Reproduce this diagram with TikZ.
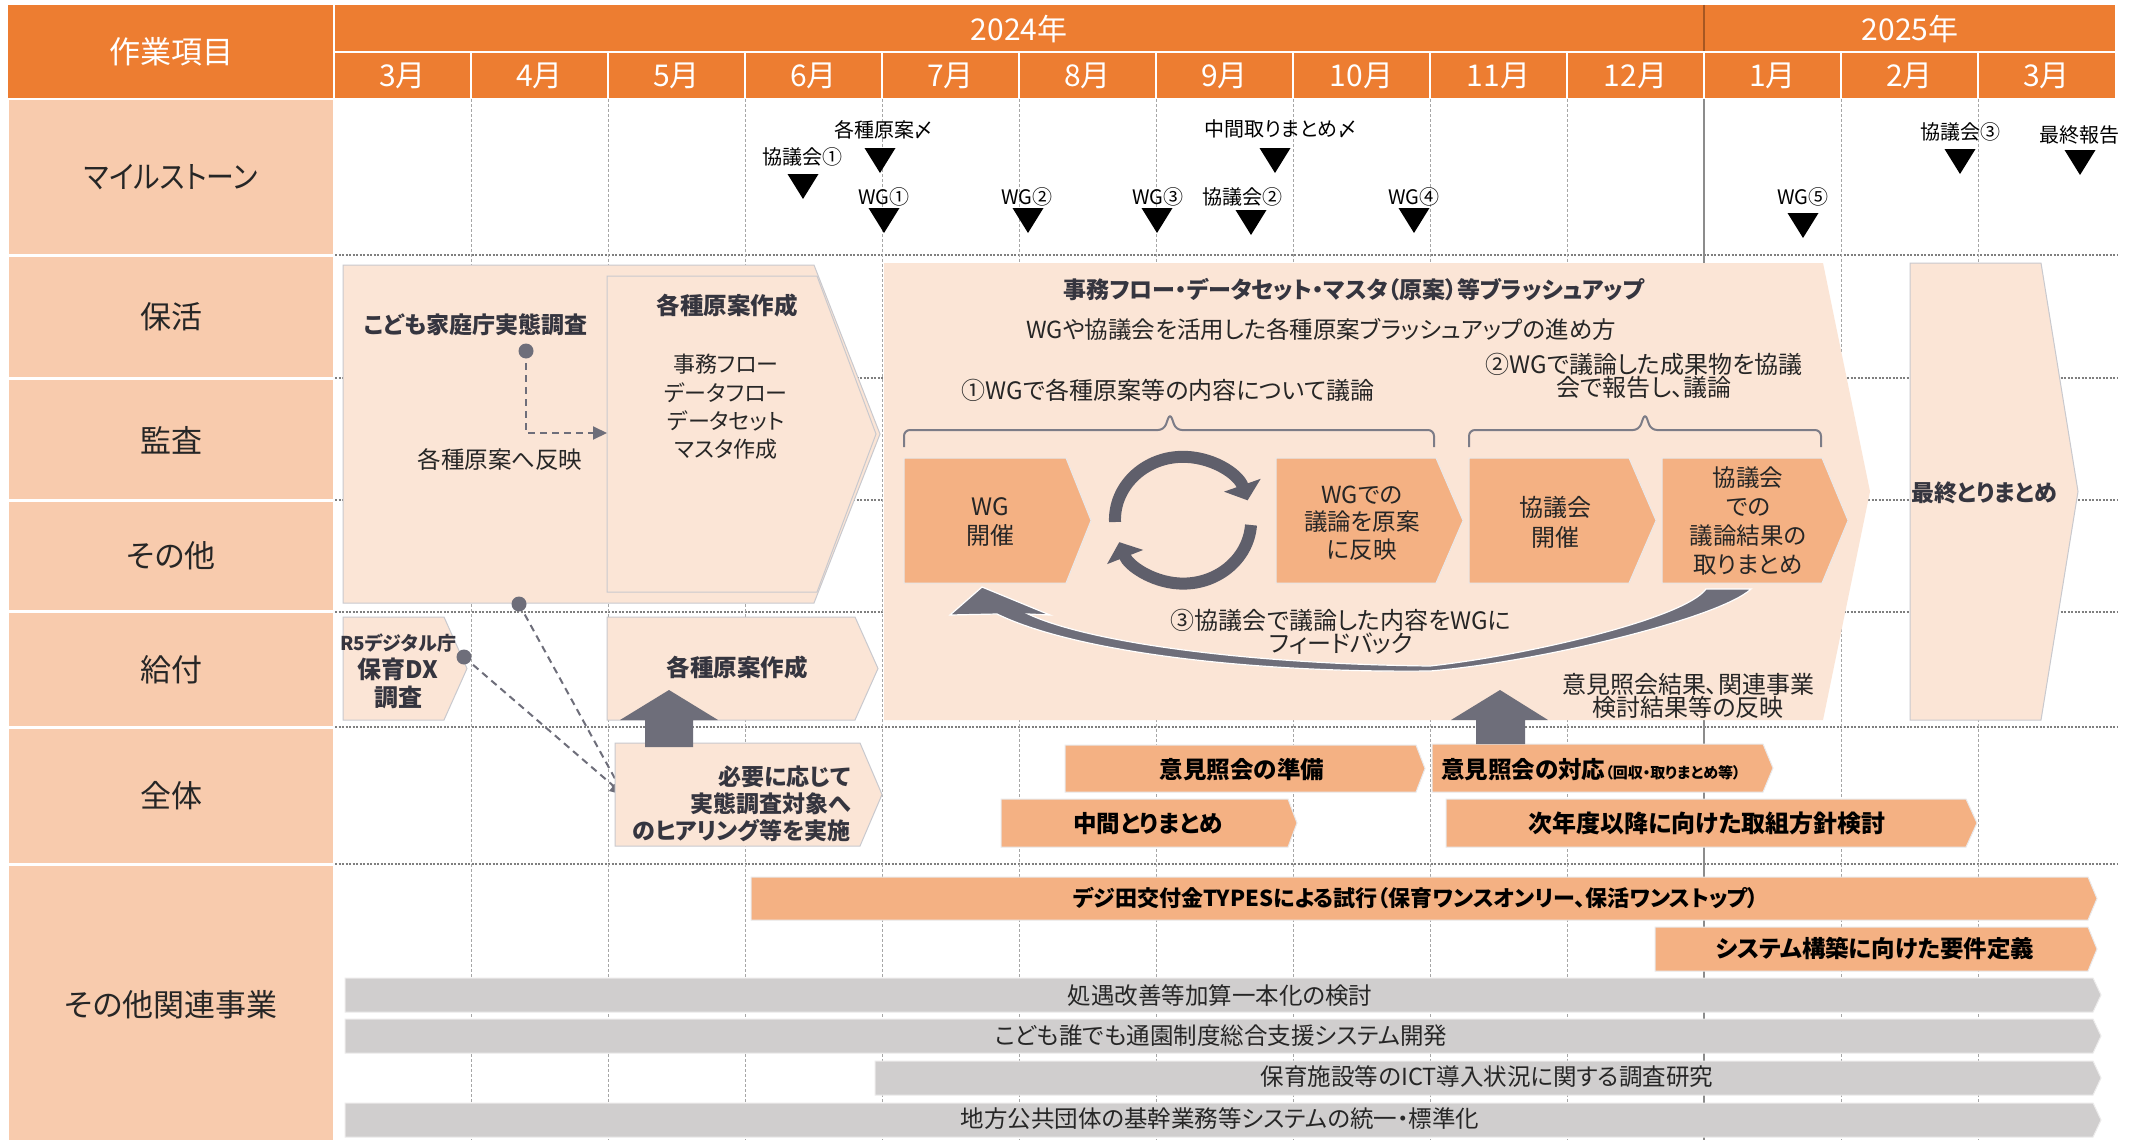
\documentclass[tikz,border=0pt]{standalone}
\usepackage{fontspec}
\setmainfont{Noto Sans CJK JP}[CharacterWidth=AlternateProportional]
\usetikzlibrary{arrows.meta,calc}
\definecolor{hdrc}{HTML}{ED7D31}
\definecolor{lblc}{HTML}{F8CBAD}
\definecolor{lightc}{HTML}{FBE5D6}
\definecolor{orc}{HTML}{F4B183}
\definecolor{grc}{HTML}{D0CECE}
\definecolor{arrc}{HTML}{6E6E7A}
\definecolor{arrdk}{HTML}{5F5F6B}
\definecolor{txtc}{HTML}{262626}
\definecolor{btxtc}{HTML}{35353F}
\definecolor{gridc}{HTML}{A6A6A6}
\definecolor{rowc}{HTML}{7F7F7F}
\definecolor{bordc}{HTML}{C9C9CE}
\newcommand\chevpath[6]{\path[#1] (#2,#3) -- ({#4-#6},#3) -- (#4,{(#3+#5)/2}) -- ({#4-#6},#5) -- (#2,#5) -- cycle;}
\newcommand\mtri[2]{\fill[black] ({#1-15.5},#2) -- ({#1+15.5},#2) -- (#1,{#2+25}) -- cycle;}
\begin{document}
\begin{tikzpicture}[x=1pt,y=-1pt,
  fs/.style 2 args={font=\fontsize{#1}{#2}\selectfont},
  bfs/.style 2 args={font=\bfseries\fontsize{#1}{#2}\selectfont},
  txt/.style={text=txtc, align=center, inner sep=0pt},
  btxt/.style={text=btxtc, align=center, inner sep=0pt},
  lightbox/.style={fill=lightc, draw=bordc, line width=1pt},
  orbox/.style={fill=orc, draw=white!60!bordc, line width=1pt},
  grbox/.style={fill=grc, draw=white!60!grc, line width=1pt},
  vgrid/.style={gridc, line width=1pt, dash pattern=on 3pt off 2pt},
  hgrid/.style={rowc, line width=1.3pt, dash pattern=on 2pt off 1.5pt},
  conn/.style={arrc, line width=2pt, dash pattern=on 7pt off 5pt, -{Triangle[length=14pt,width=13pt]}},
  msl/.style={fs={20}{24}, text=black, inner sep=0pt},
  rowlbl/.style={fs={31}{36}, text=txtc},
  hdrtxt/.style={fs={30}{34}, text=white},
  cyc/.style={arrdk, line width=12pt, -{Triangle[length=16pt,width=38pt]}},
]
\fill[white] (0,0) rectangle (2136,1140);
\useasboundingbox (0,0) rectangle (2136,1140);

% ---------- grid ----------
\foreach \yy in {255,378,500,612,727,864} \draw[hgrid] (335,\yy) -- (2118,\yy);
\foreach \k in {1,2,3,4,5,6,7,8,9,11,12} \draw[vgrid] ({334+137*\k},99) -- ({334+137*\k},1140);
\draw[rowc!90, line width=1.5pt] (1704,99) -- (1704,1140);

% ---------- header ----------
\fill[hdrc] (8,5) rectangle (333,98);
\fill[hdrc] (335,5) rectangle (2115,98);
\draw[white, line width=1.5pt] (335,52) -- (2115,52);
\foreach \k in {1,...,12} \draw[white, line width=1.2pt] ({334+137*\k},52) -- ({334+137*\k},98);
\draw[hdrc!70!black, line width=1.5pt] (1704,5) -- (1704,51);
\node[hdrtxt, fs={31}{36}] (hdrL) at (171,52) {作業項目};
\node[hdrtxt] (y24) at (1019,29) {2024年};
\node[hdrtxt] (y25) at (1910,29) {2025年};
\foreach \m [count=\i from 0] in {3月,4月,5月,6月,7月,8月,9月,10月,11月,12月,1月,2月,3月}
  \node[hdrtxt] (mon\i) at ({334+137*\i+68.5},76) {\m};

% ---------- row labels ----------
\fill[lblc] (9,100) rectangle (333,254);
\fill[lblc] (9,257) rectangle (333,377);
\fill[lblc] (9,380) rectangle (333,499);
\fill[lblc] (9,502) rectangle (333,610);
\fill[lblc] (9,613) rectangle (333,726);
\fill[lblc] (9,729) rectangle (333,863);
\fill[lblc] (9,866) rectangle (333,1140);
\node[rowlbl] (rMile) at (171,177) {\scalebox{0.9}[1]{マイルストーン}};
\node[rowlbl] (rHokatsu) at (171,317) {保活};
\node[rowlbl] (rKansa) at (171,440) {監査};
\node[rowlbl] (rSonota) at (171,556) {その他};
\node[rowlbl] (rKyufu) at (171,670) {給付};
\node[rowlbl] (rZentai) at (171,796) {全体};
\node[rowlbl] (rKanren) at (171,1005) {その他関連事業};

% ---------- milestones ----------
\node[msl] (ms1) at (802,157) {協議会①};  \mtri{803}{174}
\node[msl] (ms2) at (884,130) {各種原案〆}; \mtri{880}{148}
\node[msl] (ms3) at (884,197) {WG①};     \mtri{884}{208}
\node[msl] (ms4) at (1027,197) {WG②};    \mtri{1028}{208}
\node[msl] (ms5) at (1281,129) {中間取りまとめ〆}; \mtri{1275}{148}
\node[msl] (ms6) at (1158,197) {WG③};    \mtri{1157}{208}
\node[msl] (ms7) at (1242,197) {協議会②}; \mtri{1251}{210}
\node[msl] (ms8) at (1414,197) {WG④};    \mtri{1414}{208}
\node[msl] (ms9) at (1803,197) {WG⑤};    \mtri{1803}{213}
\node[msl] (ms10) at (1960,132) {協議会③}; \mtri{1960}{149}
\node[msl] (ms11) at (2079,135) {最終報告}; \mtri{2080}{150}

% ---------- left boxes ----------
\chevpath{lightbox}{343}{265}{880}{603}{66}
\chevpath{lightbox}{607}{276}{876}{592}{59}
\chevpath{lightbox}{343}{617}{467}{720}{23}
\chevpath{lightbox}{607}{617}{878}{720}{23}

\node[btxt, bfs={23}{28}] (surveyA) at (476,325) {こども家庭庁実態調査};
\node[txt, fs={23.5}{28}] (reflA) at (500,460) {各種原案へ反映};
\node[btxt, bfs={23.5}{28}] (draftB) at (727,306) {各種原案作成};
\node[txt, fs={22}{28.3}] (listB) at (726,407) {事務フロー\\データフロー\\データセット\\マスタ作成};
\node[btxt, bfs={19}{22}] (r5a) at (398,643) {R5デジタル庁};
\node[btxt, bfs={24}{28}] (r5b) at (398,669) {保育DX};
\node[btxt, bfs={24}{28}] (r5c) at (398,697) {調査};
\node[btxt, bfs={23.5}{28}] (draftD) at (737,668) {各種原案作成};

% connectors
\coordinate (dotS) at (526,351);
\coordinate (draftIn) at (607,433);
\coordinate (dotA) at (519,604);
\coordinate (dotR) at (464,657);
\coordinate (hearIn) at (624,795);
\draw[conn] (dotS) |- (draftIn);
\draw[conn] (dotA) -- (hearIn);
\draw[conn] (dotR) -- (hearIn);
\fill[arrc] (dotS) circle[radius=7.5pt];
\fill[arrc] (dotA) circle[radius=7.5pt];
\fill[arrc] (dotR) circle[radius=7.5pt];

% box E
\chevpath{lightbox}{615}{743}{882}{846}{22}
\node[btxt, bfs={23}{27}, align=right, anchor=east] (hearE) at (851,804) {必要に応じて\\実態調査対象へ\\のヒアリング等を実施};
% up arrow E -> D
\fill[arrc] (645,747) -- (645,720) -- (620,720) -- (669,690) -- (718,720) -- (693,720) -- (693,747) -- cycle;

% ---------- big box F ----------
\chevpath{fill=lightc}{884}{263}{1870}{720}{47}
\node[btxt, bfs={23}{28}] (fTitle) at (1354,290) {事務フロー・データセット・マスタ（原案）等ブラッシュアップ};
\node[txt, fs={23.5}{28}] (fSub) at (1321,329) {WGや協議会を活用した各種原案ブラッシュアップの進め方};
\node[txt, fs={24}{28}] (step1) at (1168,390) {①WGで各種原案等の内容について議論};
\node[txt, fs={24}{23.5}] (step2) at (1644,376) {②WGで議論した成果物を協議\\会で報告し、議論};
% braces
\draw[arrc!90, line width=2pt, rounded corners=6pt] (904,447) -- (904,430) -- (1164,430) -- (1170,413) -- (1176,430) -- (1434,430) -- (1434,447);
\draw[arrc!90, line width=2pt, rounded corners=6pt] (1469,447) -- (1469,430) -- (1639,430) -- (1645,413) -- (1651,430) -- (1821,430) -- (1821,447);

% orange step boxes
\chevpath{orbox}{904}{458}{1091}{583}{25}
\chevpath{orbox}{1276}{458}{1463}{583}{27}
\chevpath{orbox}{1469}{458}{1656}{583}{27}
\chevpath{orbox}{1662}{458}{1848}{583}{26}
\node[txt, fs={24}{29}] (wgHold) at (990,522) {WG\\開催};
\node[txt, fs={23.5}{27.5}] (wgRefl) at (1362,523) {WGでの\\議論を原案\\に反映};
\node[txt, fs={24}{30}] (kyoHold) at (1555,522) {協議会\\開催};
\node[txt, fs={23.5}{29}] (kyoSum) at (1748,521) {協議会\\での\\議論結果の\\取りまとめ};

% cycle arrows
\draw[cyc] (1115,522) arc[start angle=182, end angle=18, x radius=68pt, y radius=63pt];
\draw[cyc] (1251,525) arc[start angle=-4, end angle=-160, x radius=68pt, y radius=63pt];

% feedback arrow
\fill[arrc, draw=white, line width=1.2pt] (1706,589) -- (1751,589)
  .. controls (1720,618) and (1540,662) .. (1430,671)
  .. controls (1250,673) and (1075,652) .. (997,614)
  -- (950,615) -- (982,587) -- (1050,615) -- (1028,614)
  .. controls (1090,643) and (1250,664) .. (1430,666)
  .. controls (1530,655) and (1685,618) .. (1706,589) -- cycle;
\node[txt, fs={24}{23}] (step3) at (1341,632) {③協議会で議論した内容をWGに\\フィードバック};
\node[txt, fs={24}{23}] (reflF) at (1688,696) {意見照会結果、関連事業\\検討結果等の反映};

% ---------- box G ----------
\chevpath{lightbox}{1910}{263}{2078}{720}{37}
\node[btxt, bfs={23}{28}] (finalG) at (1984,493) {最終とりまとめ};

% ---------- 全体 row ----------
\chevpath{orbox}{1065}{745}{1425}{792}{9}
\chevpath{orbox}{1001}{799}{1297}{847}{9}
\chevpath{orbox}{1432}{744}{1773}{792}{10}
\chevpath{orbox}{1446}{799}{1977}{847}{11}
\node[btxt, bfs={23.5}{28}, text=black] (prep) at (1242,770) {意見照会の準備};
\node[btxt, bfs={23.5}{28}, text=black] (midSum) at (1148,824) {中間とりまとめ};
\node[btxt, text=black, anchor=west] (resp) at (1441,770) {{\bfseries\fontsize{23.5}{28}\selectfont 意見照会の対応}{\bfseries\fontsize{15}{18}\selectfont （回収・取りまとめ等）}};
\node[btxt, bfs={24}{28}, text=black] (nextY) at (1707,823) {次年度以降に向けた取組方針検討};
% up arrow resp -> F
\fill[arrc] (1476,744) -- (1476,720) -- (1451,720) -- (1500,690) -- (1548,720) -- (1525,720) -- (1525,744) -- cycle;

% ---------- その他関連事業 ----------
\chevpath{orbox}{751}{877}{2097}{920}{9}
\chevpath{orbox}{1655}{927}{2097}{971}{9}
\node[btxt, bfs={22}{26}, text=black] (types) at (1416,898) {デジ田交付金TYPESによる試行（保育ワンスオンリー、保活ワンストップ）};
\node[btxt, bfs={23.5}{28}, text=black] (sysReq) at (1875,949) {システム構築に向けた要件定義};
\chevpath{grbox}{345}{978}{2101}{1012}{8}
\chevpath{grbox}{345}{1019}{2101}{1053}{8}
\chevpath{grbox}{875}{1061}{2101}{1095}{8}
\chevpath{grbox}{345}{1103}{2101}{1137}{8}
\node[txt, fs={23.5}{28}] (g1) at (1220,996) {処遇改善等加算一本化の検討};
\node[txt, fs={23.5}{28}] (g2) at (1221,1036) {こども誰でも通園制度総合支援システム開発};
\node[txt, fs={23.5}{28}] (g3) at (1487,1077) {保育施設等のICT導入状況に関する調査研究};
\node[txt, fs={23.5}{28}] (g4) at (1220,1119) {地方公共団体の基幹業務等システムの統一・標準化};
\end{tikzpicture}
\end{document}
